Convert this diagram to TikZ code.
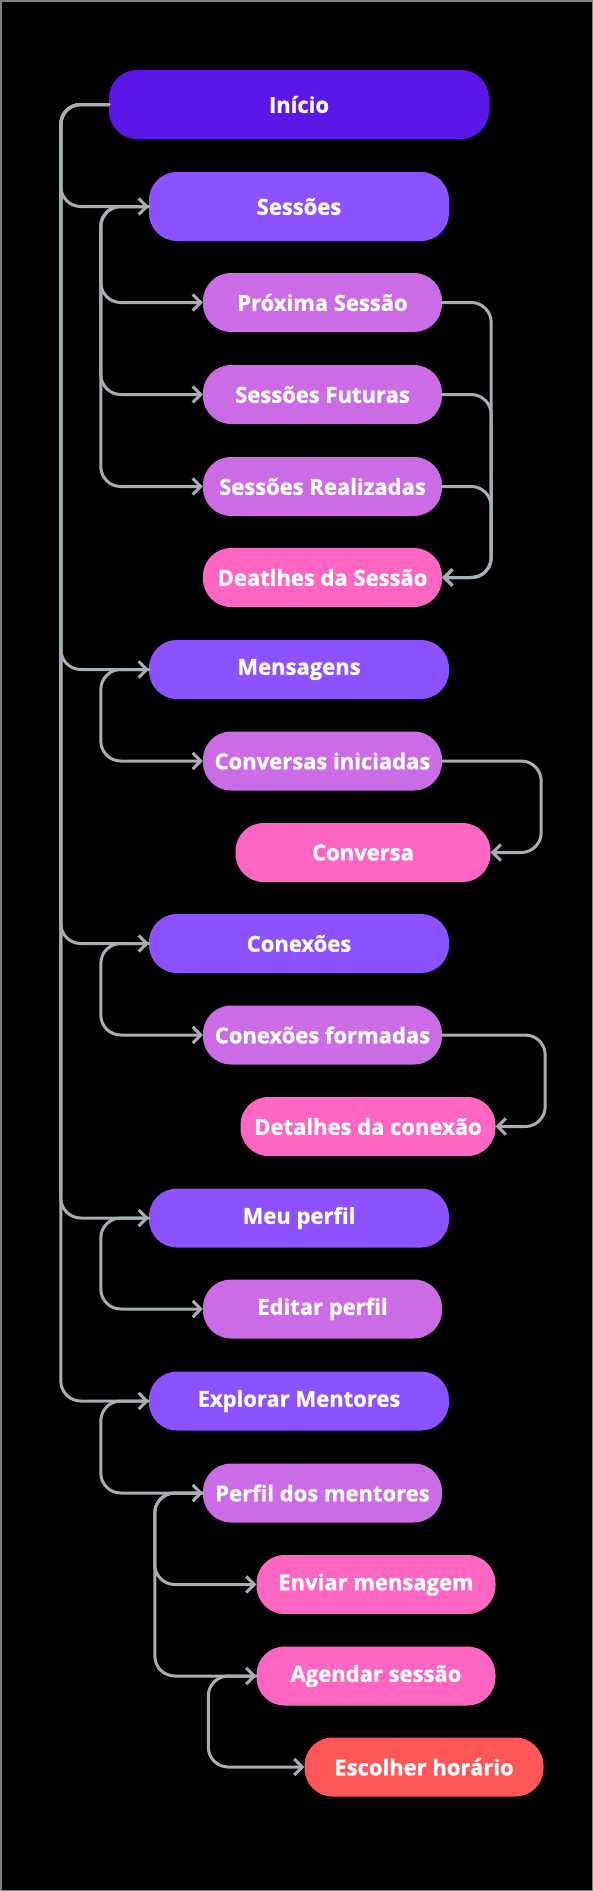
\documentclass[tikz,border=0pt]{standalone}
\usepackage{fontspec}
\setmainfont{Open Sans}
\newfontfamily\screenfont{Open Sans}[BoldFeatures={FakeBold=0.9}]
\usetikzlibrary{arrows.meta, positioning, calc}

\definecolor{inicioViolet}{HTML}{5C17E8}
\definecolor{mainPurple}{HTML}{8C52FF}
\definecolor{subOrchid}{HTML}{CB6CE6}
\definecolor{leafPink}{HTML}{FF66C4}
\definecolor{endRed}{HTML}{FF5757}
\definecolor{wireGray}{HTML}{A6AFB4}

\begin{document}
\begin{tikzpicture}[x=1pt, y=-1pt,
    screen/.style={rounded corners=28pt, text=white, font=\screenfont\fontsize{22}{26}\selectfont\bfseries, minimum height=59pt, inner sep=0pt},
    root/.style={screen, fill=inicioViolet, minimum width=380pt, minimum height=69pt},
    lvlone/.style={screen, fill=mainPurple, minimum width=300pt},
    lvltwo/.style={screen, fill=subOrchid, minimum width=239pt},
    leaf/.style={screen, fill=leafPink, minimum width=239pt},
    final/.style={screen, fill=endRed, minimum width=239pt},
    link/.style={draw=wireGray, line width=3pt, rounded corners=20pt, line cap=round, line join=round, -{Straight Barb[length=8pt,width=16pt]}}
]

% background and frame
\fill[black] (0,0) rectangle (593,1891);
\draw[gray, line width=1.5pt] (0.75,0.75) rectangle (592.25,1890.25);

% screens
\node[root] (inicio) at (299,104.5) {Início};
\node[lvlone, minimum height=69pt] (sessoes) at (299,206.5) {Sessões};
\node[lvltwo] (proxima) at (322.5,302.5) {Próxima Sessão};
\node[lvltwo] (futuras) at (322.5,394.5) {Sessões Futuras};
\node[lvltwo] (realizadas) at (322.5,486.5) {Sessões Realizadas};
\node[leaf] (detSessao) at (322.5,577.5) {Deatlhes da Sessão};
\node[lvlone] (mensagens) at (299,669.5) {Mensagens};
\node[lvltwo] (iniciadas) at (322.5,761) {Conversas iniciadas};
\node[leaf, minimum width=255pt] (conversa) at (363,852.5) {Conversa};
\node[lvlone] (conexoes) at (299,943.5) {Conexões};
\node[lvltwo] (formadas) at (322.5,1035) {Conexões formadas};
\node[leaf, minimum width=255pt] (detConexao) at (368,1126.5) {Detalhes da conexão};
\node[lvlone] (perfil) at (299,1218) {Meu perfil};
\node[lvltwo] (editar) at (322.5,1309) {Editar perfil};
\node[lvlone] (explorar) at (299,1401) {Explorar Mentores};
\node[lvltwo] (mentores) at (322.5,1493) {Perfil dos mentores};
\node[leaf] (enviar) at (376,1584.5) {Enviar mensagem};
\node[leaf] (agendar) at (376,1676) {Agendar sessão};
\node[final] (horario) at (424,1767) {Escolher horário};

% left-hand branches
\foreach \t in {sessoes, mensagens, conexoes, perfil, explorar}
    \draw[link] (inicio.west) -- ++(-48,0) |- (\t.west);
\foreach \t in {proxima, futuras, realizadas}
    \draw[link] (sessoes.west) -- ++(-48,0) |- (\t.west);
\draw[link] (mensagens.west) -- ++(-48,0) |- (iniciadas.west);
\draw[link] (conexoes.west) -- ++(-48,0) |- (formadas.west);
\draw[link] (perfil.west) -- ++(-48,0) |- (editar.west);
\draw[link] (explorar.west) -- ++(-48,0) |- (mentores.west);
\foreach \t in {enviar, agendar}
    \draw[link] (mentores.west) -- ++(-48,0) |- (\t.west);
\draw[link] (agendar.west) -- ++(-48,0) |- (horario.west);

% right-hand branches
\foreach \s in {proxima, futuras, realizadas}
    \draw[link] (\s.east) -- ++(49,0) |- (detSessao.east);
\draw[link] (iniciadas.east) -- ++(99,0) |- (conversa.east);
\draw[link] (formadas.east) -- ++(103,0) |- (detConexao.east);

\end{tikzpicture}
\end{document}
